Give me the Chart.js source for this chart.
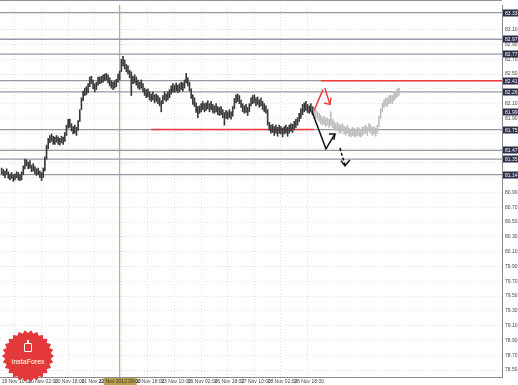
<!DOCTYPE html>
<html><head><meta charset="utf-8">
<script src="https://cdn.jsdelivr.net/npm/chart.js@4.4.1/dist/chart.umd.min.js"></script>
<style>
html,body{margin:0;padding:0;background:#fff;}
#wrap{position:relative;width:518px;height:385px;overflow:hidden;}
#c{position:absolute;left:0;top:0;}
#logo{position:absolute;left:2px;top:330px;width:52px;height:52px;background:#e4393b;}
#logoIcon{position:absolute;left:22px;top:13px;width:8px;height:9px;border:1px solid #fff;border-radius:1px;box-sizing:border-box;}
#logoIcon:before{content:"";position:absolute;left:2px;top:-4px;width:2px;height:4px;background:#fff;}
#logoText{position:absolute;left:0;width:52px;top:28px;text-align:center;color:#fff;font:7px "Liberation Sans Narrow","Liberation Sans",Arial,sans-serif;}
</style></head><body>
<div id="wrap">
<canvas id="c" width="518" height="385"></canvas>
<div id="logo"><div id="logoIcon"></div><div id="logoText">InstaForex</div></div>
</div>
<script>
// ---- data ----
const priceHigh = [81.23,81.21,81.19,81.22,81.18,81.15,81.17,81.14,81.15,81.18,81.17,81.14,81.18,81.26,81.35,81.34,81.31,81.33,81.27,81.29,
81.25,81.22,81.23,81.19,81.17,81.23,81.38,81.54,81.63,81.67,81.69,81.66,81.65,81.67,81.65,81.63,81.66,81.65,81.71,81.81,
81.89,81.89,81.83,81.79,81.81,81.78,81.87,82.02,82.18,82.27,82.31,82.33,82.37,82.46,82.47,82.42,82.37,82.39,82.46,82.46,
82.47,82.49,82.50,82.51,82.49,82.45,82.41,82.39,82.41,82.43,82.50,82.54,82.70,82.74,82.69,82.63,82.61,82.55,82.53,82.47,
82.49,82.46,82.42,82.39,82.42,82.37,82.31,82.29,82.30,82.26,82.23,82.26,82.22,82.23,82.21,82.18,82.14,82.21,82.26,82.23,
82.26,82.29,82.34,82.37,82.35,82.38,82.35,82.37,82.39,82.38,82.42,82.51,82.45,82.39,82.30,82.22,82.18,82.11,82.06,82.07,
82.10,82.13,82.10,82.11,82.14,82.10,82.13,82.09,82.07,82.10,82.06,82.05,82.06,82.02,81.98,82.01,81.99,82.02,81.99,82.06,
82.17,82.22,82.23,82.21,82.15,82.10,82.07,82.09,82.05,82.10,82.18,82.21,82.22,82.18,82.19,82.15,82.18,82.13,82.10,82.07,
82.02,81.85,81.81,81.82,81.79,81.81,81.78,81.81,81.79,81.77,81.79,81.81,81.78,81.81,81.83,81.82,81.86,81.89,81.91,81.97,
82.03,82.09,82.11,82.13,82.09,82.07,82.10,82.06];
const priceLow = [81.15,81.13,81.10,81.14,81.09,81.07,81.09,81.05,81.07,81.10,81.07,81.06,81.07,81.14,81.22,81.26,81.22,81.23,81.18,81.19,
81.15,81.13,81.14,81.10,81.06,81.10,81.19,81.35,81.49,81.57,81.59,81.55,81.55,81.58,81.55,81.54,81.57,81.55,81.59,81.67,
81.77,81.78,81.73,81.69,81.70,81.67,81.74,81.86,82.02,82.14,82.21,82.22,82.25,82.33,82.37,82.30,82.26,82.29,82.35,82.37,
82.38,82.39,82.41,82.42,82.38,82.34,82.31,82.29,82.31,82.33,82.39,82.42,82.53,82.61,82.57,82.53,82.50,82.45,82.21,82.37,
82.38,82.35,82.31,82.29,82.31,82.26,82.21,82.18,82.19,82.15,82.13,82.15,82.11,82.13,82.10,82.07,81.99,82.10,82.15,82.13,
82.15,82.18,82.23,82.26,82.25,82.27,82.25,82.26,82.29,82.27,82.31,82.38,82.34,82.27,82.17,82.09,82.06,81.98,81.91,81.97,
81.99,82.02,81.99,82.01,82.03,81.99,82.02,81.98,81.97,81.99,81.95,81.94,81.95,81.91,81.81,81.90,81.89,81.91,81.89,81.93,
82.03,82.11,82.13,82.10,82.05,81.99,81.97,81.98,81.94,81.99,82.07,82.10,82.11,82.07,82.09,82.05,82.07,82.02,81.99,81.97,
81.81,81.74,81.70,81.71,81.67,81.70,81.66,81.70,81.69,81.65,81.69,81.70,81.66,81.70,81.73,81.71,81.75,81.78,81.81,81.86,
81.90,81.95,81.99,82.01,81.98,81.97,81.99,81.95];
const forecastStart = 188;
const forecastHigh = [82.05,82.02,81.99,81.97,81.94,81.91,81.93,81.90,81.91,81.89,81.99,81.89,81.86,81.83,81.85,81.82,81.81,81.83,81.79,81.78,
81.81,81.77,81.75,81.78,81.77,81.75,81.78,81.77,81.75,81.78,81.79,81.81,81.78,81.83,81.81,81.78,81.79,81.77,81.81,81.93,
82.03,82.10,82.15,82.18,82.17,82.21,82.22,82.21,82.25,82.27,82.30,82.31];
const forecastLow = [81.94,81.91,81.89,81.86,81.83,81.81,81.82,81.79,81.81,81.78,81.81,81.78,81.75,81.73,81.74,81.71,81.70,81.73,81.69,81.67,
81.70,81.66,81.65,81.67,81.66,81.65,81.67,81.66,81.65,81.67,81.69,81.70,81.67,81.73,81.70,81.67,81.69,81.66,81.70,81.79,
81.90,81.99,82.05,82.07,82.06,82.10,82.11,82.10,82.14,82.17,82.19,82.21];

const xTickPositions = [0,16,32,48,64,80,96,112,128,144,160,176];
const xTickLabels = ["19 Nov 10:00","20 Nov 02:00","20 Nov 18:00","21 Nov 10:00","22 Nov 02:00","22 Nov 18:00","23 Nov 10:00","26 Nov 02:00","26 Nov 18:00","27 Nov 10:00","28 Nov 02:00","28 Nov 18:00"];
const yTickValues = [83.10,82.90,82.70,82.50,82.30,82.10,81.90,81.70,81.50,81.30,81.10,80.90,80.70,80.50,80.30,80.10,79.90,79.70,79.50,79.30,79.10,78.90,78.70,78.50];

const levelValues = [83.33,82.97,82.77,82.41,82.26,81.75,81.47,81.35,81.14];
const currentPrice = 81.99;
const redLevelValues = [82.41,81.75];
const redLevelFrom = [192,90];
const redLevelTo = [301,188];
const markerTime = 71;
const markerLabel = "22 Nov 2012 09:00";

const redStroke = [[188,82.01],[193.3,82.29]];
const redArrow = [[194.5,82.31],[197.5,82.09]];
const redArrowHead = [[193.9,82.11],[197.5,82.09],[198.1,82.18]];
const blackArrow = [[186.7,81.99],[195.1,81.49],[200.5,81.69]];
const blackArrowHead = [[196.9,81.69],[200.5,81.69],[199.9,81.61]];
const dashedArrow = [[203.5,81.50],[206.5,81.27]];
const dashedArrowHead = [[204.1,81.33],[206.5,81.26],[209.5,81.34]];

const xMin = -1, xMax = 301, yMin = 78.407, yMax = 83.433;

// ---- build ----
const FONT = '"Liberation Sans Narrow", "Liberation Sans", Arial, sans-serif';
const pts = a => a.map(p => ({x:p[0], y:p[1]}));
const datasets = [];
levelValues.forEach(v => datasets.push({type:'line', data:[{x:xMin,y:v},{x:xMax,y:v}], borderColor:'#9499a6', borderWidth:1.3, pointRadius:0, order:20}));
redLevelValues.forEach((v,k) => datasets.push({type:'line', data:[{x:redLevelFrom[k],y:v},{x:redLevelTo[k],y:v}], borderColor:'#ee3b3b', borderWidth:1.5, pointRadius:0, order:15}));
datasets.push({type:'line', data:[{x:markerTime,y:yMin},{x:markerTime,y:yMax}], borderColor:'#b09a7a', borderWidth:1, pointRadius:0, order:19});
datasets.push({type:'bar', data:priceHigh.map((h,i)=>({x:i, y:[priceLow[i], h]})), backgroundColor:'#3a3a3a', barThickness:1, grouped:false, order:10});
datasets.push({type:'bar', data:forecastHigh.map((h,i)=>({x:forecastStart+i, y:[forecastLow[i], h]})), backgroundColor:'#bdbdbd', barThickness:1, grouped:false, order:11});
const lineDs = (arr, color, dash) => ({type:'line', data:pts(arr), borderColor:color, borderWidth:1.5, borderDash:dash||[], pointRadius:0, order:1, tension:0});
datasets.push(lineDs(redStroke,'#ee3b3b'));
datasets.push(lineDs(redArrow,'#ee3b3b'));
datasets.push(lineDs(redArrowHead,'#ee3b3b'));
datasets.push(lineDs(blackArrow,'#111'));
datasets.push(lineDs(blackArrowHead,'#111'));
datasets.push(lineDs(dashedArrow,'#111',[3,2]));
datasets.push(lineDs(dashedArrowHead,'#111'));

const boxValues = levelValues.concat([currentPrice]);

const overlay = {
  id:'overlay',
  afterDraw(chart){
    const ctx = chart.ctx, ca = chart.chartArea, ys = chart.scales.y, xs = chart.scales.x;
    ctx.save();
    ctx.strokeStyle = '#8e93a2'; ctx.lineWidth = 1;
    ctx.beginPath(); ctx.moveTo(0, 0.5); ctx.lineTo(ca.right, 0.5); ctx.stroke();
    ctx.font = '5px ' + FONT;
    ctx.textBaseline = 'middle';
    boxValues.forEach(v => {
      const y = Math.round(ys.getPixelForValue(v));
      ctx.fillStyle = '#2c2f48';
      ctx.fillRect(ca.right + 1, y - 3.5, 15, 7);
      ctx.fillStyle = '#fff';
      ctx.textAlign = 'left';
      ctx.fillText(v.toFixed(2), ca.right + 3, y + 0.5);
    });
    const mx = xs.getPixelForValue(markerTime);
    ctx.fillStyle = '#b9a24e';
    ctx.fillRect(mx - 16, ca.bottom + 1, 33, 7);
    ctx.fillStyle = '#333';
    ctx.textAlign = 'center';
    ctx.fillText(markerLabel, mx, ca.bottom + 4.5);
    ctx.restore();
  }
};

new Chart(document.getElementById('c'), {
  type:'bar',
  data:{datasets},
  options:{
    responsive:false, animation:false, events:[],
    layout:{padding:0},
    plugins:{legend:{display:false}, tooltip:{enabled:false}},
    scales:{
      x:{type:'linear', min:xMin, max:xMax, offset:false,
         afterBuildTicks:s=>{s.ticks = xTickPositions.map(v=>({value:v}));},
         afterFit:s=>{s.height = 8;},
         ticks:{autoSkip:false, maxRotation:0, align:'start', padding:0, color:'#444',
           font:{size:5, family:FONT},
           callback:(v,i)=>xTickLabels[i]},
         grid:{color:'#e0e0e0', tickLength:2, drawTicks:true},
         border:{display:true, color:'#8a8a8a', dash:[1,2]}},
      y:{type:'linear', position:'right', min:yMin, max:yMax,
         afterBuildTicks:s=>{s.ticks = yTickValues.map(v=>({value:v}));},
         afterFit:s=>{s.width = 16;},
         ticks:{autoSkip:false, padding:2, color:'#444',
           font:{size:5, family:FONT},
           callback:(v)=>{
             const near = boxValues.some(b => Math.abs(b - v) < 0.06);
             return near ? '' : v.toFixed(2);
           }},
         grid:{color:'#e0e0e0', tickLength:1},
         border:{display:true, color:'#8a8a8a', dash:[1,2]}}
    }
  },
  plugins:[overlay]
});

// logo starburst shape
(function(){
  const n = 26, R = 50, r = 44, c = 50, p = [];
  for (let k = 0; k < n*2; k++) {
    const a = Math.PI * k / n, rr = (k % 2 === 0) ? R : r;
    p.push((c + rr*Math.cos(a)).toFixed(1) + '% ' + (c + rr*Math.sin(a)).toFixed(1) + '%');
  }
  document.getElementById('logo').style.clipPath = 'polygon(' + p.join(',') + ')';
})();
</script>
</body></html>
